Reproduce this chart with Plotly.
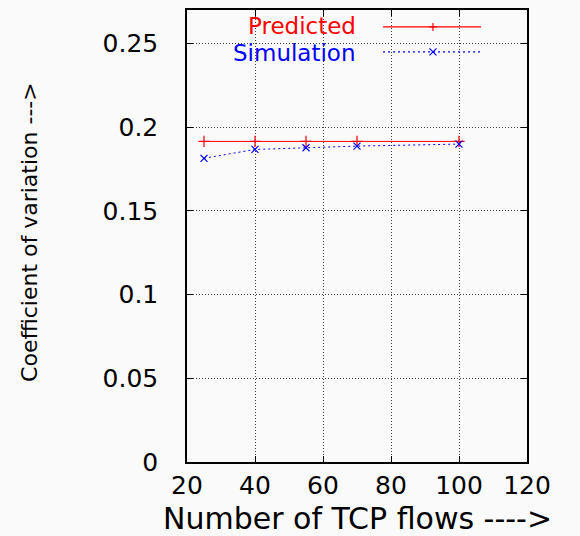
import plotly.graph_objects as go

flows = [25, 40, 55, 70, 100]
predicted = [0.1915, 0.1915, 0.1915, 0.1915, 0.1915]
simulation = [0.1814, 0.1867, 0.1877, 0.1887, 0.1899]
x_ticks = [20, 40, 60, 80, 100, 120]
y_ticks = [0, 0.05, 0.1, 0.15, 0.2, 0.25]
y_tick_text = ["0", "0.05", "0.1", "0.15", "0.2", "0.25"]

FONT = "DejaVu Sans"
BG = "#fafafa"
RED = "#ff0000"
BLUE = "#0000ff"

fig = go.Figure()
fig.add_trace(go.Scatter(
    x=flows, y=predicted, mode="lines+markers", name="Predicted",
    line=dict(color=RED, width=1),
    marker=dict(symbol="cross-thin", size=8, line=dict(color=RED, width=1.2), color=RED),
    showlegend=False))
fig.add_trace(go.Scatter(
    x=flows, y=simulation, mode="lines+markers", name="Simulation",
    line=dict(color=BLUE, width=1, dash="2px,3px"),
    marker=dict(symbol="x-thin", size=7, line=dict(color=BLUE, width=1.2), color=BLUE),
    showlegend=False))

axis_common = dict(
    showline=True, linecolor="black", linewidth=1.5, mirror="ticks",
    ticks="inside", ticklen=6, tickwidth=1.2, tickcolor="black",
    showgrid=True, gridcolor="rgba(0,0,0,0.75)", gridwidth=1, griddash="1px,2px",
    zeroline=False,
    tickfont=dict(family=FONT, size=25, color="black"),
)

fig.update_xaxes(range=[20, 120], tickvals=x_ticks, ticklabelstandoff=0, **axis_common)
fig.update_yaxes(range=[0, 0.27], tickvals=y_ticks, ticktext=y_tick_text,
                 ticklabelstandoff=22, **axis_common)

# legend box (opaque, hides grid)
shapes = [
    dict(type="rect", xref="paper", yref="paper", x0=0, x1=0.929, y0=0.879, y1=1,
         fillcolor=BG, line=dict(width=0), layer="between"),
    dict(type="line", xref="paper", yref="paper", x0=0.5765, x1=0.8647, y0=0.9626, y1=0.9626,
         line=dict(color=RED, width=1.2)),
    dict(type="line", xref="paper", yref="paper", x0=0.5765, x1=0.8647, y0=0.9075, y1=0.9075,
         line=dict(color=BLUE, width=1.2, dash="2px,3px")),
    dict(type="path", xref="paper", yref="paper", xsizemode="pixel", ysizemode="pixel",
         xanchor=0.7235, yanchor=0.9626, path="M -4,0 L 4,0 M 0,-4 L 0,4",
         line=dict(color=RED, width=1.2)),
    dict(type="path", xref="paper", yref="paper", xsizemode="pixel", ysizemode="pixel",
         xanchor=0.7235, yanchor=0.9075, path="M -3.5,-3.5 L 3.5,3.5 M -3.5,3.5 L 3.5,-3.5",
         line=dict(color=BLUE, width=1.2)),
]

annotations = [
    dict(text="Predicted", xref="paper", yref="paper", x=0.503, y=0.9648,
         xanchor="right", yanchor="middle", showarrow=False,
         font=dict(family=FONT, size=23, color=RED)),
    dict(text="Simulation", xref="paper", yref="paper", x=0.503, y=0.9053,
         xanchor="right", yanchor="middle", showarrow=False,
         font=dict(family=FONT, size=23, color=BLUE)),
    dict(text="Number of TCP flows ---->", xref="paper", yref="paper", x=0.5, y=-0.126,
         xanchor="center", yanchor="middle", showarrow=False,
         font=dict(family=FONT, size=30, color="black")),
    dict(text="Coefficient of variation --->", xref="paper", yref="paper", x=-0.4618, y=0.509,
         xanchor="center", yanchor="middle", showarrow=False, textangle=-90,
         font=dict(family=FONT, size=22, color="black")),
]

fig.update_layout(
    width=580, height=536,
    margin=dict(l=187, r=53, t=8, b=74),
    paper_bgcolor=BG, plot_bgcolor=BG,
    shapes=shapes, annotations=annotations,
    showlegend=False,
)

fig.write_html("out.html")
